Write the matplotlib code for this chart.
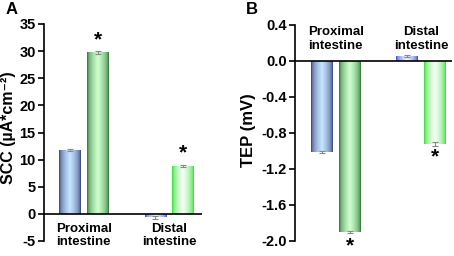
import numpy as np
import matplotlib
matplotlib.use("Agg")
import matplotlib.pyplot as plt
from matplotlib.colors import LinearSegmentedColormap

plt.rcParams['font.family'] = ['Liberation Sans', 'DejaVu Sans']
plt.rcParams['font.weight'] = 'bold'

categories = ["Proximal\nintestine", "Distal\nintestine"]
scc_ctrl = [11.7, -0.6]
scc_treat = [29.8, 8.9]
scc_ctrl_err = [0.2, 0.3]
scc_treat_err = [0.3, 0.2]
tep_ctrl = [-1.01, 0.06]
tep_treat = [-1.90, -0.92]
tep_ctrl_err = [0.01, 0.01]
tep_treat_err = [0.01, 0.02]
scc_ticks = [-5, 0, 5, 10, 15, 20, 25, 30, 35]
tep_ticks = [-2.0, -1.6, -1.2, -0.8, -0.4, 0.0, 0.4]

# gradient colours (edge, center) for each bar: [group][series]
grad = {
    (0, 0): ("#26316a", "#c4e4ff"),
    (0, 1): ("#1d6625", "#ccffcc"),
    (1, 0): ("#2034dc", "#eef2ff"),
    (1, 1): ("#1cdc1c", "#f6fff6"),
}

fig = plt.figure(figsize=(4.54, 2.56), dpi=100)
W, H = 454, 256

def px_axes(l, r, top, bottom):
    return fig.add_axes([l / W, (H - bottom) / H, (r - l) / W, (bottom - top) / H])

axA = px_axes(44, 202, 24, 241)
axB = px_axes(295, 452, 25, 241)

off = 0.161
bw = 0.257
prof = np.concatenate([np.linspace(0, 1, 40) ** 0.45, np.linspace(1, 0, 40) ** 0.45])[None, :]

def draw(ax, ctrl, treat, cerr, terr):
    x = np.arange(len(categories))
    for si, (vals, errs) in enumerate([(ctrl, cerr), (treat, terr)]):
        pos = x + (-off if si == 0 else off)
        bars = ax.bar(pos, vals, bw, color='none', edgecolor='none', zorder=2)
        for gi, b in enumerate(bars):
            edge, center = grad[(gi, si)]
            cm = LinearSegmentedColormap.from_list('g', [edge, center])
            bx, by = b.get_x(), b.get_y()
            bwid, bh = b.get_width(), b.get_height()
            im = ax.imshow(prof, cmap=cm, aspect='auto', extent=[bx, bx + bwid, by, by + bh],
                           zorder=2, interpolation='bilinear')
            im.set_clip_path(b)
        ax.errorbar(pos, vals, yerr=errs, fmt='none', ecolor='#888888', elinewidth=0.8,
                    capsize=2, capthick=0.8, zorder=3)
    ax.axhline(0, color='black', lw=1.2, zorder=4)
    for s in ['top', 'right', 'bottom']:
        ax.spines[s].set_visible(False)
    ax.spines['left'].set_linewidth(1.2)
    ax.tick_params(axis='y', direction='out', length=4, width=1.2, labelsize=10.5, pad=2)
    ax.tick_params(axis='x', length=0, labelbottom=False)

draw(axA, scc_ctrl, scc_treat, scc_ctrl_err, scc_treat_err)
axA.set_xlim(-0.465, 1.383)
axA.set_ylim(-5, 35)
axA.set_yticks(scc_ticks)
axA.set_yticklabels([str(t) for t in scc_ticks], fontweight='bold')
axA.set_ylabel("SCC (\u00b5A*cm\u207b\u00b2)", fontsize=11.5, fontweight='bold', va='center')
axA.yaxis.set_label_coords(-0.222, 0.523)
for i, c in enumerate(categories):
    axA.text(i, -1.6, c, ha='center', va='top', fontsize=9.5, fontweight='bold', linespacing=1.15)
axA.text(0 + off, scc_treat[0] + 0.6, "*", ha='center', va='bottom', fontsize=15, fontweight='bold')
axA.text(1 + off, scc_treat[1] + 0.6, "*", ha='center', va='bottom', fontsize=15, fontweight='bold')

draw(axB, tep_ctrl, tep_treat, tep_ctrl_err, tep_treat_err)
axB.set_xlim(-0.477, 1.36)
axB.set_ylim(-2.0, 0.4)
axB.set_yticks(tep_ticks)
axB.set_yticklabels([f"{t:.1f}" for t in tep_ticks], fontweight='bold')
axB.set_ylabel("TEP (mV)", fontsize=12, fontweight='bold', va='center')
axB.yaxis.set_label_coords(-0.293, 0.514)
for i, c in enumerate(categories):
    axB.text(i, 0.385, c, ha='center', va='top', fontsize=9.5, fontweight='bold', linespacing=1.15)
axB.text(0 + off, tep_treat[0] - 0.05, "*", ha='center', va='top', fontsize=15, fontweight='bold')
axB.text(1 + off, tep_treat[1] - 0.04, "*", ha='center', va='top', fontsize=15, fontweight='bold')

fig.text(12 / W, 1 - 9 / H, "A", ha='center', va='center', fontsize=12, fontweight='bold')
fig.text(252 / W, 1 - 9 / H, "B", ha='center', va='center', fontsize=12, fontweight='bold')

fig.savefig("out.png", dpi=100)
